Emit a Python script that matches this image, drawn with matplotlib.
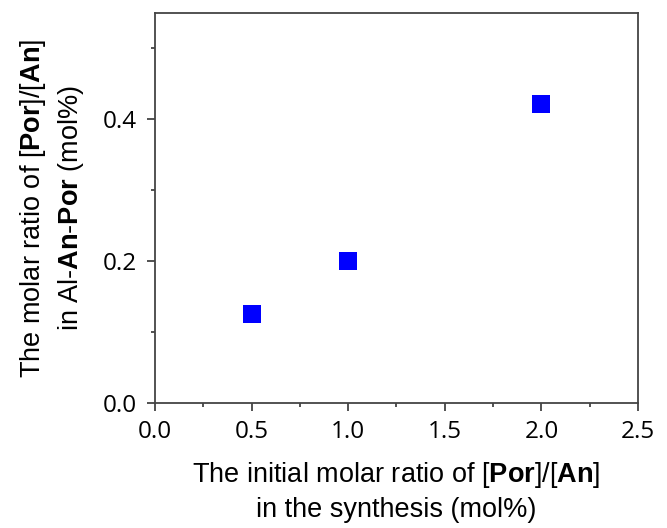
import matplotlib.pyplot as plt
from matplotlib.ticker import MultipleLocator

plt.rcParams['mathtext.fontset'] = 'custom'
plt.rcParams['mathtext.rm'] = 'Liberation Sans'
plt.rcParams['mathtext.bf'] = 'Liberation Sans:bold'

initial_ratio = [0.5, 1.0, 2.0]
measured_ratio = [0.126, 0.200, 0.421]

fig = plt.figure(figsize=(6.67, 5.28), dpi=100)
ax = fig.add_axes([0.2324, 0.2367, 0.7241, 0.7387])

ax.plot(initial_ratio, measured_ratio, 's', color='#0000ff', markersize=13.5,
        markeredgewidth=0)

ax.set_xlim(0, 2.5)
ax.set_ylim(0, 0.55)
ax.xaxis.set_major_locator(MultipleLocator(0.5))
ax.xaxis.set_minor_locator(MultipleLocator(0.25))
ax.yaxis.set_major_locator(MultipleLocator(0.2))
ax.yaxis.set_minor_locator(MultipleLocator(0.1))
ax.tick_params(which='major', direction='out', length=6, width=1.2,
               labelsize=17.5, pad=6, color='#333333')
ax.tick_params(which='minor', direction='out', length=3, width=1.2,
               color='#333333')
ax.tick_params(axis='y', which='major', pad=7)
for lbl in ax.get_xticklabels() + ax.get_yticklabels():
    lbl.set_fontfamily('Open Sans')

for s in ax.spines.values():
    s.set_linewidth(1.3)
    s.set_color('#444444')

ax.set_xlabel('The initial molar ratio of [$\\mathbf{Por}$]/[$\\mathbf{An}$]\n'
              'in the synthesis (mol%)', fontsize=19.5,
              family='Liberation Sans', labelpad=12, linespacing=1.35)
ax.set_ylabel('The molar ratio of [$\\mathbf{Por}$]/[$\\mathbf{An}$]\n'
              'in Al-$\\mathbf{An}$-$\\mathbf{Por}$ (mol%)', fontsize=19.5,
              family='Liberation Sans', labelpad=12, linespacing=1.35)

fig.savefig('out.png', dpi=100)
